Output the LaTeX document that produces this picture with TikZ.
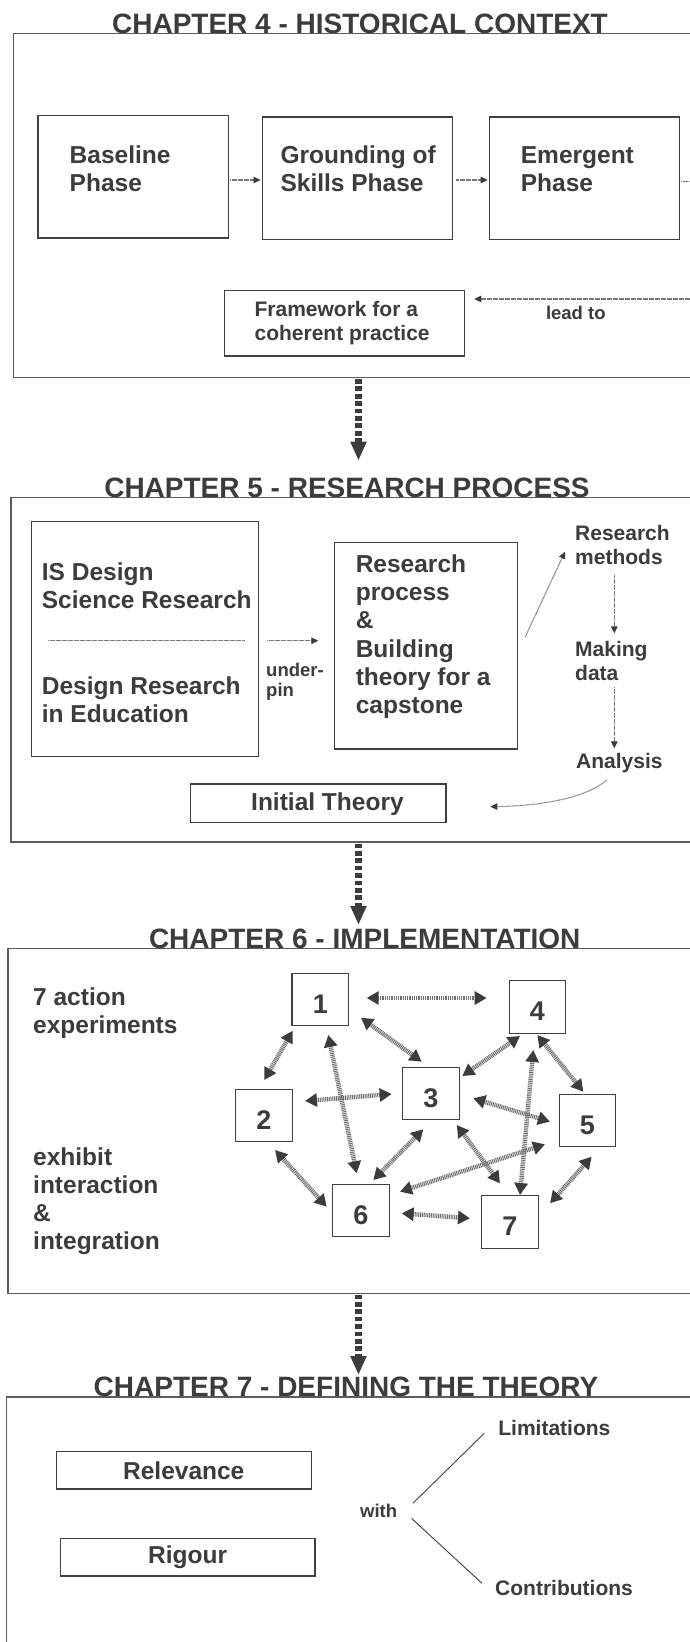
\documentclass[tikz,border=0pt]{standalone}
\usepackage{fontspec}
\setmainfont{Liberation Sans}
\usetikzlibrary{arrows.meta,calc}
\definecolor{ink}{HTML}{3C3C3C}
\definecolor{boxline}{HTML}{404040}
\definecolor{frameline}{HTML}{5C5C5C}
\definecolor{dotline}{HTML}{7A7A7A}
\definecolor{hatch}{HTML}{6E6E6E}
\newcommand{\fs}[2]{\fontsize{#1}{#2}\selectfont\bfseries}
\begin{document}
\begin{tikzpicture}[x=1pt,y=-1pt,
  chapterframe/.style={draw=frameline, line width=1.3pt},
  chaptertitle/.style={anchor=base, inner sep=0pt, text=ink, font=\fs{28}{30}},
  phasebox/.style={draw=boxline, line width=1.3pt, anchor=north west, inner sep=0pt},
  centerbox/.style={draw=boxline, line width=1.3pt, anchor=center, inner sep=0pt, text=ink, font=\fs{24.5}{28}},
  % multi-line labels are placed by the baseline of their last line
  txt/.style={anchor=base west, inner sep=0pt, text=ink, align=left},
  boxtext/.style={txt, font=\fs{24.5}{28}},
  bigtext/.style={txt, font=\fs{24.5}{28.1}},
  smalltext/.style={txt, font=\fs{21}{24.3}},
  tinytext/.style={txt, font=\fs{18.5}{19.5}},
  dotrule/.style={draw=dotline, line width=1.1pt, dash pattern=on 0.7pt off 0.5pt},
  dotarrow/.style={dotrule, -{Triangle[length=7pt,width=6.5pt,color=ink]}},
  chapterarrow/.style={draw=ink, line width=6.5pt, dash pattern=on 4.7pt off 2.7pt, -{Triangle[length=19pt,width=15pt]}},
  expbox/.style={draw=boxline, line width=1.3pt, minimum width=56.5pt, minimum height=52.5pt, inner sep=0pt,
    text height=27.3pt, text depth=0pt, text=ink, font=\fs{27}{30}},
  link/.style={draw=hatch, line width=4.5pt, dash pattern=on 1pt off 0.8pt,
    {Triangle[length=12pt,width=13pt,color=ink]}-{Triangle[length=12pt,width=13pt,color=ink]}},
  ]
\useasboundingbox (0,0) rectangle (690,1642);
\fill[white] (0,0) rectangle (690,1642);
\clip (0,0) rectangle (690,1642);

% ================= Chapter 4: historical context
\draw[chapterframe] (13.2,33.3) rectangle (720,377.5);
\node[chaptertitle] (t4) at (360,33.3) {CHAPTER 4 - HISTORICAL CONTEXT};

\node[phasebox, minimum width=190.1pt, minimum height=122.3pt] (b1) at (37.4,115) {};
\node[phasebox, minimum width=190.1pt, minimum height=122.4pt] (b2) at (261.9,116.3) {};
\node[phasebox, minimum width=190pt, minimum height=122.4pt] (b3) at (489,116.3) {};
\node[boxtext] (b1t) at (69.5,191.3) {Baseline\\Phase};
\node[boxtext] (b2t) at (280.4,191.3) {Grounding of\\Skills Phase};
\node[boxtext] (b3t) at (520.7,191.3) {Emergent\\Phase};

\draw[dotarrow] ($(b1.north east)+(1.5,65)$) -- ($(b2.north west)+(-1.3,63.7)$);
\draw[dotarrow] ($(b2.north east)+(2.7,63.7)$) -- ($(b3.north west)+(-1.3,63.7)$);
\coordinate (exitR) at (720,181.7);
\draw[dotrule] ($(b3.north east)+(1,65.4)$) -- (exitR);

\node[phasebox, minimum width=240.3pt, minimum height=65.3pt] (fw) at (223.6,290) {};
\node[smalltext] (fwt) at (254.4,340.3) {Framework for a\\coherent practice};
\coordinate (entryR) at (720,299);
\draw[dotarrow] (entryR) -- ($(fw.north east)+(9.1,9)$);
\node[tinytext] (lead) at (545.8,319.3) {lead to};

% ================= Chapter 5: research process
\draw[chapterframe] (11,497.7) rectangle (720,842);
\node[chaptertitle] (t5) at (347,497.7) {CHAPTER 5 - RESEARCH PROCESS};
\coordinate (c4) at (358.5,379);
\draw[chapterarrow] (c4) -- ($(t5.base)+(11.5,-37)$);

\node[phasebox, minimum width=226.7pt, minimum height=235.3pt] (L) at (30.8,520.7) {};
\node[boxtext] (isd) at (41.7,608) {IS Design\\Science Research};
\node[boxtext] (dre) at (41.7,722.3) {Design Research\\in Education};
\draw[dotrule] ($(L.north west)+(17.5,120)$) -- ($(L.north east)+(-14.2,120)$);

\node[phasebox, minimum width=183.4pt, minimum height=206.6pt] (M) at (333.6,541.7) {};
\node[bigtext] (Mt) at (355.6,713.2) {Research\\process\\\&\\Building\\theory for a\\capstone};
\draw[dotarrow] ($(L.north east)+(8.5,120)$) -- ($(M.north west)+(-15.3,99)$);
\node[tinytext] (pin) at (266,696) {under-\\pin};

\node[smalltext] (rm) at (575,564.3) {Research\\methods};
\node[smalltext] (md) at (575,680.3) {Making\\data};
\node[smalltext] (an) at (576,768.3) {Analysis};
\draw[dotarrow] ($(M.north east)+(7,95)$) -- ($(rm.base west)+(-10,-12.6)$);
\draw[dotarrow] ($(rm.base west)+(39.3,10.7)$) -- ($(md.base west)+(39.3,-47)$);
\draw[dotarrow] ($(md.base west)+(39.3,7)$) -- ($(an.base west)+(38.3,-20)$);

\node[phasebox, minimum width=255.4pt, minimum height=38.4pt] (it) at (190,783.3) {};
\node[boxtext] (itt) at (251,810) {Initial Theory};
\draw[dotarrow] ($(an.base west)+(31,11.7)$) .. controls +(-20,17) and +(55,-1) .. ($(it.north east)+(43.6,23.4)$);

% ================= Chapter 6: implementation
\draw[chapterframe] (8,948.3) rectangle (720,1293.3);
\node[chaptertitle] (t6) at (364.7,948.3) {CHAPTER 6 - IMPLEMENTATION};
\coordinate (c5) at (358.5,843.5);
\draw[chapterarrow] (c5) -- ($(t6.base)+(-6.2,-23.3)$);

\node[boxtext] (ax) at (33,1033.7) {7 action\\experiments};
\node[boxtext] (ex) at (33,1249) {exhibit\\interaction\\\&\\integration};

\node[expbox] (n1) at (320.3,999.5) {1};
\node[expbox] (n2) at (264,1115.5) {2};
\node[expbox] (n3) at (431,1093.5) {3};
\node[expbox] (n4) at (537.5,1007) {4};
\node[expbox] (n5) at (587.5,1120.5) {5};
\node[expbox] (n6) at (361,1210.5) {6};
\node[expbox] (n7) at (510,1222) {7};

\draw[link] ($(n1)+(46.4,-1.5)$) -- ($(n4)+(-50.8,-9)$);
\draw[link] ($(n1)+(40.7,18.2)$) -- ($(n3)+(-9.3,-31.8)$);
\draw[link] ($(n1)+(-27.6,31.2)$) -- ($(n2)+(0.3,-35.5)$);
\draw[link] ($(n1)+(8,35.5)$) -- ($(n6)+(-4.3,-37.2)$);
\draw[link] ($(n2)+(41,-14.5)$) -- ($(n3)+(-39.3,0.5)$);
\draw[link] ($(n4)+(-17.5,29)$) -- ($(n3)+(31.3,-17.5)$);
\draw[link] ($(n4)+(-0.2,28)$) -- ($(n5)+(-4.2,-28.8)$);
\draw[link] ($(n4)+(-4.2,43)$) -- ($(n7)+(10,-27)$);
\draw[link] ($(n3)+(42.3,4.8)$) -- ($(n5)+(-37.5,1.2)$);
\draw[link] ($(n3)+(-7.7,35.8)$) -- ($(n6)+(12.3,-30.5)$);
\draw[link] ($(n3)+(25.7,31.5)$) -- ($(n7)+(-10,-38.7)$);
\draw[link] ($(n5)+(-42.5,23.8)$) -- ($(n6)+(39,-18.8)$);
\draw[link] ($(n5)+(4.2,36.2)$) -- ($(n7)+(40,-18.7)$);
\draw[link] ($(n2)+(11,34.5)$) -- ($(n6)+(-34.3,-3.8)$);
\draw[link] ($(n6)+(40.7,2.8)$) -- ($(n7)+(-40,-3.7)$);

% ================= Chapter 7: defining the theory
\draw[chapterframe] (6.6,1397) rectangle (720,1720);
\node[chaptertitle] (t7) at (346,1396.7) {CHAPTER 7 - DEFINING THE THEORY};
\coordinate (c6) at (358.5,1294.5);
\draw[chapterarrow] (c6) -- ($(t7.base)+(12.5,-21.7)$);

\node[centerbox, minimum width=254.9pt, minimum height=37.3pt] (rel) at (183.75,1470.35) {Relevance};
\node[centerbox, minimum width=254.8pt, minimum height=37.7pt] (rig) at (187.7,1557.2) {Rigour};

\node[tinytext] (with) at (360,1517.7) {with};
\node[smalltext] (lim) at (498.2,1435.7) {Limitations};
\node[smalltext] (con) at (495,1595) {Contributions};
\draw[boxline, line width=0.9pt] ($(with.base west)+(52.9,-14.4)$) -- ($(lim.base west)+(-14,-2.4)$);
\draw[boxline, line width=0.9pt] ($(with.base west)+(51.5,0.6)$) -- ($(con.base west)+(-13,-11.7)$);
\end{tikzpicture}
\end{document}
